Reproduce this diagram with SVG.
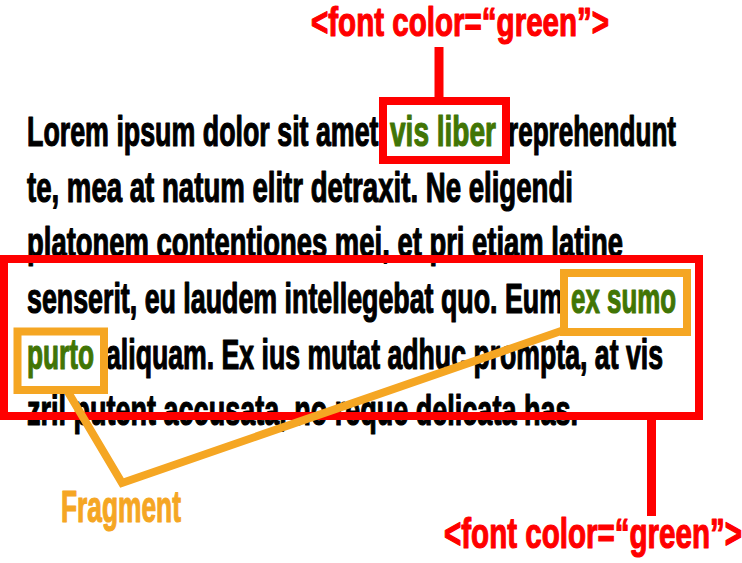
<svg xmlns="http://www.w3.org/2000/svg" width="742" height="563" viewBox="0 0 742 563">
<style>
.t{font-family:"Liberation Sans",Arial,sans-serif;font-weight:bold;font-size:42px;stroke-width:1.2;stroke-linejoin:round}
.k{fill:#000;stroke:#000}
.g{fill:#417505;stroke:#417505}
.r{fill:#ff0000;stroke:#ff0000}
.o{fill:#f5a623;stroke:#f5a623}
.rb{fill:none;stroke:#ff0000;stroke-width:8}
.ob{fill:none;stroke:#f5a623;stroke-width:8}
.rl{stroke:#ff0000;stroke-width:9;fill:none}
.ol{stroke:#f5a623;stroke-width:8;fill:none;stroke-linejoin:miter;stroke-miterlimit:10}
</style>
<rect width="742" height="563" fill="#fff"/>
<g id="paragraph" class="t">
<text class="k" transform="translate(27,146) scale(0.638,1)" textLength="562.7" lengthAdjust="spacingAndGlyphs">Lorem ipsum dolor sit amet,</text>
<text class="g" transform="translate(390,146) scale(0.668,1)" textLength="158.7" lengthAdjust="spacingAndGlyphs">vis liber</text>
<text class="k" transform="translate(508,146) scale(0.621,1)" textLength="270.5" lengthAdjust="spacingAndGlyphs">reprehendunt</text>
<text class="k" transform="translate(27,201.7) scale(0.657,1)" textLength="831" lengthAdjust="spacingAndGlyphs">te, mea at natum elitr detraxit. Ne eligendi</text>
<text class="k" transform="translate(27,257.4) scale(0.653,1)" textLength="912.7" lengthAdjust="spacingAndGlyphs">platonem contentiones mei, et pri etiam latine</text>
<text class="k" transform="translate(27,313) scale(0.638,1)" textLength="840.1" lengthAdjust="spacingAndGlyphs">senserit, eu laudem intellegebat quo. Eum</text>
<text class="g" transform="translate(571,313) scale(0.616,1)" textLength="170.5" lengthAdjust="spacingAndGlyphs">ex sumo</text>
<text class="g" transform="translate(27,368.8) scale(0.624,1)" textLength="107.4" lengthAdjust="spacingAndGlyphs">purto</text>
<text class="k" transform="translate(106,368.8) scale(0.635,1)" textLength="877.2" lengthAdjust="spacingAndGlyphs">aliquam. Ex ius mutat adhuc prompta, at vis</text>
<text class="k" transform="translate(27,424.5) scale(0.643,1)" textLength="856.9" lengthAdjust="spacingAndGlyphs">zril putent accusata, no reque delicata has.</text>
</g>
<g id="node-top-label">
<text class="t r" transform="translate(311,36.3) scale(0.739,1)" textLength="403.4" lengthAdjust="spacingAndGlyphs" style="font-size:40px">&lt;font color=“green”&gt;</text>
</g>
<g id="node-vis-liber-box">
<rect class="rb" x="383" y="101" width="123" height="59"/>
</g>
<g id="node-fragment-region">
<rect class="rb" x="4" y="259" width="695" height="157"/>
</g>
<g id="node-ex-sumo-box">
<rect class="ob" x="564" y="273" width="123" height="59"/>
</g>
<g id="node-purto-box">
<rect class="ob" x="17.5" y="331.5" width="86.5" height="58.5"/>
</g>
<g id="node-fragment-label">
<text class="t o" transform="translate(61,522) scale(0.599,1)" textLength="200.3" lengthAdjust="spacingAndGlyphs" style="font-size:44px">Fragment</text>
</g>
<g id="node-bottom-label">
<text class="t r" transform="translate(444,548) scale(0.703,1)" textLength="423.9" lengthAdjust="spacingAndGlyphs">&lt;font color=“green”&gt;</text>
</g>
<g id="connectors">
<line class="rl" x1="439" y1="47" x2="439" y2="101"/>
<line class="rl" x1="651.5" y1="416" x2="651.5" y2="516"/>
<polyline class="ol" points="68,392 122,483 564,330"/>
</g>
</svg>
